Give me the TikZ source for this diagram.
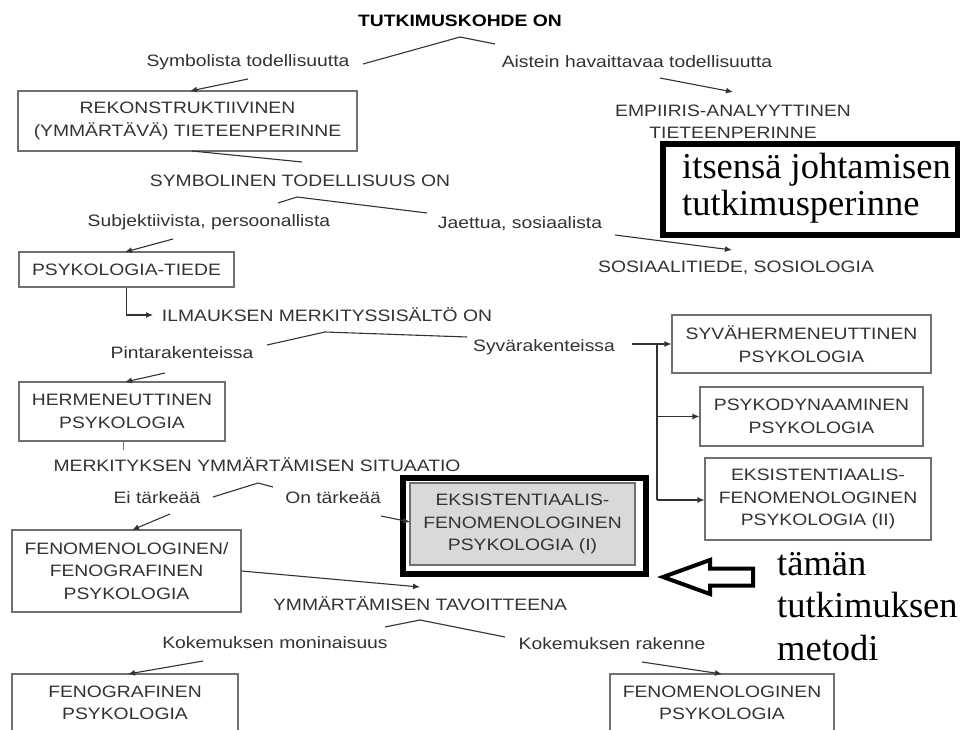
\documentclass[tikz,border=0pt]{standalone}
\usepackage{fontspec}
\setmainfont{Liberation Sans}[FakeStretch=1.17]
\newfontfamily\serifA{Liberation Serif}
\usetikzlibrary{arrows.meta}
\definecolor{txt}{HTML}{333333}
\definecolor{bx}{HTML}{707070}
\definecolor{ln}{HTML}{333333}
\definecolor{grayfill}{HTML}{D9D9D9}
\begin{document}
\begin{tikzpicture}[x=1pt,y=-1pt,
  every node/.style={text=txt, inner sep=0pt, align=center, font=\fontsize{16.5}{22.5}\selectfont},
  boxnode/.style={draw=bx, line width=1.1pt},
  con/.style={draw=ln, line width=1.1pt},
  arr/.style={con, -{Latex[length=7pt,width=6pt]}},
  bignote/.style={text=black, align=left, font=\serifA\fontsize{36.5}{37}\selectfont},
]
\useasboundingbox[fill=white] (0,0) rectangle (960,730);

% ---------- text labels ----------
\node[font=\bfseries\fontsize{16.5}{20}\selectfont, text=black] (title) at (460,21) {TUTKIMUSKOHDE ON};
\node (s1) at (248,62) {Symbolista todellisuutta};
\node (s2) at (637,62) {Aistein havaittavaa todellisuutta};
\node (emp) at (733,121.5) {EMPIIRIS-ANALYYTTINEN\\TIETEENPERINNE};
\node (sym) at (300,181) {SYMBOLINEN TODELLISUUS ON};
\node (sub) at (209,222) {Subjektiivista, persoonallista};
\node (jae) at (520,224) {Jaettua, sosiaalista};
\node (sos) at (736,268) {SOSIAALITIEDE, SOSIOLOGIA};
\node (ilm) at (327,315) {ILMAUKSEN MERKITYSSISÄLTÖ ON};
\node (pin) at (182,353) {Pintarakenteissa};
\node (syt) at (544,347) {Syvärakenteissa};
\node (mer) at (257,465) {MERKITYKSEN YMMÄRTÄMISEN SITUAATIO};
\node (ei) at (157,498) {Ei tärkeää};
\node (on) at (333,498) {On tärkeää};
\node (ymm) at (420,604) {YMMÄRTÄMISEN TAVOITTEENA};
\node (kmo) at (275,643) {Kokemuksen moninaisuus};
\node (kra) at (612,644) {Kokemuksen rakenne};

% ---------- boxes ----------
\node[boxnode, minimum width=339pt, minimum height=60pt] (rek) at (187.5,121) {REKONSTRUKTIIVINEN\\(YMMÄRTÄVÄ) TIETEENPERINNE};
\node[boxnode, minimum width=215pt, minimum height=35pt] (psy) at (126.5,269.5) {PSYKOLOGIA-TIEDE};
\node[boxnode, minimum width=206pt, minimum height=59pt] (her) at (122,411.5) {HERMENEUTTINEN\\PSYKOLOGIA};
\node[boxnode, minimum width=229pt, minimum height=82pt] (fen1) at (126.5,571) {FENOMENOLOGINEN/\\FENOGRAFINEN\\PSYKOLOGIA};
\node[boxnode, minimum width=259pt, minimum height=58pt] (syv) at (801.5,344) {SYVÄHERMENEUTTINEN\\PSYKOLOGIA};
\node[boxnode, minimum width=223pt, minimum height=59pt] (pdy) at (811.5,416.5) {PSYKODYNAAMINEN\\PSYKOLOGIA};
\node[boxnode, minimum width=226pt, minimum height=82pt] (eks2) at (818,499) {EKSISTENTIAALIS-\\FENOMENOLOGINEN\\PSYKOLOGIA (II)};
\node[boxnode, minimum width=226pt, minimum height=58pt] (fgr) at (125,703) {FENOGRAFINEN\\PSYKOLOGIA};
\node[boxnode, minimum width=224pt, minimum height=58pt] (fmp) at (722,703) {FENOMENOLOGINEN\\PSYKOLOGIA};

% highlighted method box
\node[draw=black, line width=6pt, minimum width=243pt, minimum height=96pt] (frame) at (524.5,526) {};
\node[boxnode, fill=grayfill, minimum width=225pt, minimum height=82pt] (eks1) at (522.5,524) {EKSISTENTIAALIS-\\FENOMENOLOGINEN\\PSYKOLOGIA (I)};

% research tradition note box
\node[draw=black, fill=white, line width=6.5pt, minimum width=295pt, minimum height=91pt] (itse) at (810.5,189.5) {};
\node[bignote, anchor=base west] (itset) at (682,215) {itsensä johtamisen\\tutkimusperinne};

% method note
\node[bignote, anchor=base west, font=\serifA\fontsize{36.5}{42.5}\selectfont] (metodi) at (777,660) {tämän\\tutkimuksen\\metodi};
\coordinate (bt) at (663,577);
\draw[black, line width=4pt, fill=white, line join=miter]
  (bt) -- (710,560) -- (710,568.5) -- (753,568.5) -- (753,585.5) -- (710,585.5) -- (710,594) -- cycle;

% ---------- connectors ----------
\coordinate (a1) at (460,37);
\coordinate (a1l) at (363,64);
\coordinate (a1r) at (495,44);
\draw[con] (a1l) -- (a1) -- (a1r);

\coordinate (c1) at (248,79);
\coordinate (c1e) at (190,91);
\draw[arr] (c1) -- (c1e);
\coordinate (c2) at (660,78);
\coordinate (c2e) at (733,92);
\draw[arr] (c2) -- (c2e);

\coordinate (c3) at (192,151);
\coordinate (c3e) at (302,162);
\draw[con] (c3) -- (c3e);

\coordinate (a2) at (297,197);
\coordinate (a2l) at (278,203);
\coordinate (a2r) at (427,213);
\draw[con] (a2l) -- (a2) -- (a2r);

\coordinate (c4) at (173,239);
\coordinate (c4e) at (125,252);
\draw[arr] (c4) -- (c4e);
\coordinate (c5) at (615,235);
\coordinate (c5e) at (732,250);
\draw[arr] (c5) -- (c5e);

\coordinate (c6e) at (153,315);
\draw[arr] (psy.south) |- (c6e);

\coordinate (a3) at (325,332);
\coordinate (a3l) at (267,345);
\coordinate (a3r) at (467,337);
\draw[con] (a3l) -- (a3) -- (a3r);

\coordinate (c7) at (165,373);
\coordinate (c7e) at (125,382);
\draw[arr] (c7) -- (c7e);

\coordinate (c8e) at (123,450);
\draw[con, line width=0.9pt, draw=bx] (her.south -| c8e) -- (c8e);

\coordinate (sy0) at (632,344);
\coordinate (sy1) at (657,344);
\coordinate (sy2) at (657,416.5);
\coordinate (sy3) at (657,500);
\draw[arr] (sy0) -- (syv.west);
\draw[con] (sy1) -- (sy3);
\draw[arr] (sy2) -- (pdy.west);
\draw[arr] (sy3) -- (eks2.west |- sy3);

\coordinate (a4) at (258,483);
\coordinate (a4l) at (213,497);
\coordinate (a4r) at (273,487);
\draw[con] (a4l) -- (a4) -- (a4r);

\coordinate (c9) at (170,514);
\coordinate (c9e) at (132,530);
\draw[arr] (c9) -- (c9e);
\coordinate (c10) at (381,516);
\coordinate (c10e) at (410,522);
\draw[arr] (c10) -- (c10e);

\coordinate (c11e) at (420,587);
\draw[arr] (fen1.east) -- (c11e);

\coordinate (a5) at (420,620);
\coordinate (a5l) at (385,627);
\coordinate (a5r) at (505,637);
\draw[con] (a5l) -- (a5) -- (a5r);

\coordinate (c12) at (203,661);
\coordinate (c12e) at (128,674);
\draw[arr] (c12) -- (c12e);
\coordinate (c13) at (642,662);
\coordinate (c13e) at (722,674);
\draw[arr] (c13) -- (c13e);
\end{tikzpicture}
\end{document}
